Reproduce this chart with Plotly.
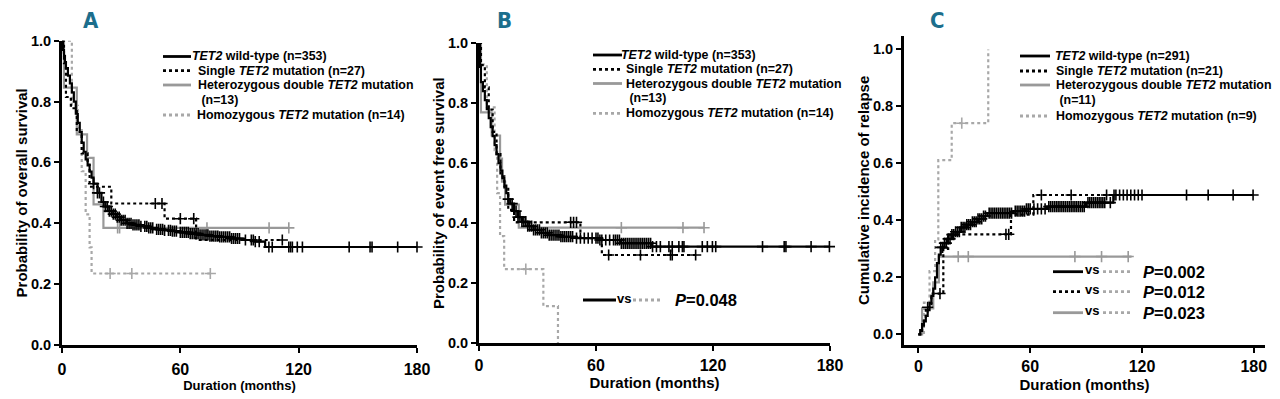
import plotly.graph_objects as go

W, H = 1280, 399

# ---------------- Panel A: overall survival ----------------
a_wt_t = [0, 0.5, 1, 1.5, 2, 3, 4, 5, 6, 7, 8, 9, 10, 11, 12, 13, 14, 15, 16, 18, 20, 22, 24, 26, 28, 30,
          33, 36, 40, 44, 48, 52, 56, 60, 65, 70, 75, 80, 86, 92, 98, 103]
a_wt_s = [1.0, 0.97, 0.95, 0.93, 0.91, 0.885, 0.86, 0.83, 0.80, 0.76, 0.73, 0.70, 0.665, 0.635, 0.61, 0.59,
          0.57, 0.55, 0.53, 0.50, 0.47, 0.455, 0.44, 0.43, 0.42, 0.41, 0.40, 0.395, 0.39, 0.385, 0.38, 0.377,
          0.374, 0.37, 0.366, 0.362, 0.358, 0.355, 0.35, 0.345, 0.34, 0.322]
a_wt_end = 180
a_wt_cens = [16, 18, 19, 21, 22, 23, 24, 25, 26, 27, 28, 29, 30, 31, 32, 33, 34, 35, 36, 37, 38, 39, 40, 42,
             43, 44, 45, 46, 48, 49, 50, 51, 52, 54, 55, 56, 57, 58, 60, 61, 62, 63, 64, 65, 66, 67, 68, 69,
             70, 71, 72, 73, 74, 75, 76, 77, 78, 79, 80, 81, 82, 83, 84, 85, 86, 87, 88, 89, 90, 93, 96, 97,
             98, 100, 104.9, 106.6, 115, 115.9, 116.8, 119.3, 121.9, 145.6, 156.2, 157.2, 170.2, 180]

a_single_t = [0, 1, 2, 4.5, 7.5, 10, 13, 14, 25, 52, 68]
a_single_s = [1.0, 0.926, 0.815, 0.778, 0.70, 0.63, 0.593, 0.52, 0.465, 0.415, 0.345]
a_single_end = 111.7
a_single_cens = [47.3, 50.7, 60, 66.8, 111.7]

a_het_t = [0, 1, 7.5, 12.7, 16, 21]
a_het_s = [1.0, 0.846, 0.692, 0.615, 0.462, 0.385]
a_het_end = 115
a_het_cens = [28.2, 29.2, 73.5, 105, 115]

a_homo_t = [0, 5, 8, 10, 12, 14, 15]
a_homo_s = [1.0, 0.786, 0.714, 0.571, 0.429, 0.321, 0.235]
a_homo_end = 75.2
a_homo_cens = [24.4, 35.4, 75.2]

# ---------------- Panel B: event free survival ----------------
b_wt_t = [0, 0.5, 1, 2, 3, 4, 5, 6, 7, 8, 9, 10, 11, 12, 13, 14, 15, 16, 18, 20, 22, 25, 28, 32, 36, 42,
          50, 62, 72.5, 88.8]
b_wt_s = [1.0, 0.92, 0.87, 0.84, 0.81, 0.78, 0.75, 0.72, 0.69, 0.66, 0.63, 0.60, 0.575, 0.55, 0.525, 0.50,
          0.48, 0.465, 0.44, 0.42, 0.405, 0.39, 0.378, 0.368, 0.36, 0.355, 0.35, 0.344, 0.333, 0.322]
b_wt_end = 179.7
b_wt_cens = [15, 17, 19, 20, 21, 22, 23, 24, 25, 26, 27, 28, 29, 30, 31, 32, 33, 34, 35, 36, 37, 38, 39, 40,
             41, 42, 43, 44, 45, 46, 47, 48, 50, 52, 54, 56, 58, 60, 61, 62, 63, 65, 67, 69, 70, 71, 72, 73,
             74, 75, 76, 77, 78, 79, 80, 81, 82, 83, 84, 85, 86, 87, 88, 89, 91, 93, 97.4, 99.1, 102.5,
             104.3, 105.1, 114.5, 117.1, 119.7, 121.4, 145.4, 156.5, 157.4, 170.3, 179.7]

b_single_t = [0, 1, 3, 5, 7, 9, 11, 13, 15, 18, 52, 63]
b_single_s = [1.0, 0.926, 0.852, 0.778, 0.704, 0.63, 0.556, 0.519, 0.444, 0.403, 0.35, 0.294]
b_single_end = 111.1
b_single_cens = [47, 48.5, 50, 66.5, 82.8, 98.2, 99.1, 111.1]

b_het_t = [0, 1, 6.5, 10.8, 11.8, 13.4, 20.4]
b_het_s = [1.0, 0.769, 0.692, 0.615, 0.538, 0.462, 0.385]
b_het_end = 115.4
b_het_cens = [73, 104.6, 115.4]

b_homo_t = [0, 1, 4, 8, 9.3, 10.8, 12.9, 33, 40.5]
b_homo_s = [1.0, 0.929, 0.786, 0.643, 0.5, 0.357, 0.247, 0.124, 0.0]
b_homo_end = 40.5
b_homo_cens = [24]

# ---------------- Panel C: cumulative incidence of relapse ----------------
c_wt_t = [0, 1, 2, 3, 4, 5, 6, 7, 8, 9, 10, 11, 12, 14, 16, 18, 20, 23, 26, 29, 32, 35, 37, 51, 58, 69,
          90, 104.6]
c_wt_v = [0, 0.015, 0.03, 0.045, 0.065, 0.085, 0.11, 0.135, 0.16, 0.2, 0.25, 0.28, 0.305, 0.32, 0.335,
          0.35, 0.36, 0.375, 0.385, 0.395, 0.405, 0.415, 0.425, 0.432, 0.44, 0.448, 0.462, 0.489]
c_wt_end = 179.6
c_wt_cens = [12, 13, 14, 15, 16, 17, 18, 19, 20, 21, 22, 23, 24, 25, 26, 27, 28, 29, 30, 31, 32, 33, 34, 35,
             36, 38, 39, 40, 41, 42, 43, 44, 45, 46, 47, 48, 49, 50, 52, 53, 54, 55, 56, 57, 58, 59, 60, 62,
             64, 66, 68, 70, 71, 72, 73, 74, 75, 76, 77, 78, 79, 80, 81, 82, 83, 84, 85, 86, 87, 88, 89, 91,
             92, 93, 94, 95, 96, 97, 98, 99, 100, 103, 105, 106, 108, 110, 112, 114, 116, 118, 120, 143.9,
             155.5, 168.9, 179.6]

c_single_t = [0, 2, 4, 7, 13.4, 16, 49.7, 61.7]
c_single_v = [0, 0.048, 0.095, 0.143, 0.30, 0.351, 0.42, 0.489]
c_single_end = 104
c_single_cens = [5, 11.6, 47, 48.5, 66, 82, 101]

c_het_t = [0, 2, 8, 11]
c_het_v = [0, 0.091, 0.182, 0.273]
c_het_end = 114.4
c_het_cens = [21.4, 26.8, 84, 98.3, 112.6]

c_homo_t = [0, 3, 6, 9, 10.7, 17.9, 37.5]
c_homo_v = [0, 0.111, 0.222, 0.333, 0.611, 0.741, 1.0]
c_homo_end = 37.5
c_homo_cens = [23.3]

x_ticks = [0, 60, 120, 180]
y_ticks = [0.0, 0.2, 0.4, 0.6, 0.8, 1.0]

legend_keys = ["wt", "single", "het", None, "homo"]
labels_a = ["<i>TET2</i> wild-type (n=353)", "Single <i>TET2</i> mutation (n=27)",
            "Heterozygous double <i>TET2</i> mutation", " (n=13)", "Homozygous <i>TET2</i> mutation (n=14)"]
labels_b = labels_a
labels_c = ["<i>TET2</i> wild-type (n=291)", "Single <i>TET2</i> mutation (n=21)",
            "Heterozygous double <i>TET2</i> mutation", " (n=11)", "Homozygous <i>TET2</i> mutation (n=9)"]
p_b = ["0.048"]
p_c = ["0.002", "0.012", "0.023"]

# ---------------- styles ----------------
BLACK = "#000000"
GREY_S = "#999999"
GREY_D = "#a8a8a8"
TEAL = "#1c6e8c"
FONT = "Liberation Sans, Arial, sans-serif"
styles = {
    "wt": dict(color=BLACK, dash="solid", width=2.2),
    "single": dict(color=BLACK, dash="dot", width=2.2),
    "het": dict(color=GREY_S, dash="solid", width=2.2),
    "homo": dict(color=GREY_D, dash="dot", width=2.2),
}


def px_x(p):
    return p / W


def px_y(p):
    return 1 - p / H


def step_at(times, vals, t):
    v = vals[0]
    for ti, vi in zip(times, vals):
        if ti <= t:
            v = vi
    return v


def full_name(labels, key):
    i = legend_keys.index(key)
    txt = labels[i] + (labels[i + 1] if key == "het" else "")
    return txt.replace("<i>", "").replace("</i>", "")


fig = go.Figure()


def add_curve(key, times, vals, end, cens, name, xa, ya):
    st = styles[key]
    xs = list(times) + [end]
    ys = list(vals) + [vals[-1]]
    fig.add_trace(go.Scatter(
        x=xs, y=ys, mode="lines", line=dict(color=st["color"], dash=st["dash"], width=st["width"], shape="hv"),
        name=name, showlegend=False, xaxis=xa, yaxis=ya, hoverinfo="name"))
    fig.add_trace(go.Scatter(
        x=cens, y=[step_at(times, vals, c) for c in cens], mode="markers", name=name + " (censored)",
        marker=dict(symbol="cross-thin", size=8, line=dict(width=1.6, color=st["color"])),
        showlegend=False, xaxis=xa, yaxis=ya, cliponaxis=False, hoverinfo="name"))


panels = [
    ("x", "y", labels_a, [
        ("homo", a_homo_t, a_homo_s, a_homo_end, a_homo_cens),
        ("het", a_het_t, a_het_s, a_het_end, a_het_cens),
        ("single", a_single_t, a_single_s, a_single_end, a_single_cens),
        ("wt", a_wt_t, a_wt_s, a_wt_end, a_wt_cens)]),
    ("x2", "y2", labels_b, [
        ("homo", b_homo_t, b_homo_s, b_homo_end, b_homo_cens),
        ("het", b_het_t, b_het_s, b_het_end, b_het_cens),
        ("single", b_single_t, b_single_s, b_single_end, b_single_cens),
        ("wt", b_wt_t, b_wt_s, b_wt_end, b_wt_cens)]),
    ("x3", "y3", labels_c, [
        ("homo", c_homo_t, c_homo_v, c_homo_end, c_homo_cens),
        ("het", c_het_t, c_het_v, c_het_end, c_het_cens),
        ("single", c_single_t, c_single_v, c_single_end, c_single_cens),
        ("wt", c_wt_t, c_wt_v, c_wt_end, c_wt_cens)]),
]
for xa, ya, labels, curves in panels:
    for key, t, v, end, cens in curves:
        add_curve(key, t, v, end, cens, full_name(labels, key), xa, ya)


def xaxis(dom, rng, title, tsize, anchor, standoff, lab_standoff):
    return dict(domain=dom, range=rng, tickvals=x_ticks, ticktext=[str(v) for v in x_ticks], anchor=anchor,
                automargin=False, showline=True, linewidth=3, linecolor="black", ticks="outside", ticklen=5,
                tickwidth=2, tickcolor="black", showgrid=False, zeroline=False, ticklabelstandoff=lab_standoff,
                tickfont=dict(family=FONT, size=16, color="black", weight="bold"),
                title=dict(text=title, font=dict(family=FONT, size=tsize, color="black", weight="bold"),
                           standoff=standoff))


def yaxis(dom, rng, title, anchor, tsize):
    return dict(domain=dom, range=rng, tickvals=y_ticks, tickformat=".1f", anchor=anchor, automargin=False,
                showline=True, linewidth=3, linecolor="black", ticks="outside", ticklen=5, tickwidth=2,
                tickcolor="black", showgrid=False, zeroline=False,
                tickfont=dict(family=FONT, size=14.5, color="black", weight="bold"),
                title=dict(text=title, font=dict(family=FONT, size=tsize, color="black", weight="bold"),
                           standoff=0))


fig.update_layout(
    width=W, height=H, margin=dict(l=0, r=0, t=0, b=0, autoexpand=False),
    paper_bgcolor="white", plot_bgcolor="white", showlegend=False,
    xaxis=xaxis([px_x(62), px_x(417)], [0, 180], "Duration (months)", 13, "y", 4, 3),
    yaxis=yaxis([px_y(345), px_y(40.7)], [0, 1.0], "Probability of overall survival", "x", 15),
    xaxis2=xaxis([px_x(479), px_x(830)], [0, 180], "Duration (months)", 15, "y2", 0, 0),
    yaxis2=yaxis([px_y(343.3), px_y(43)], [0, 1.0], "Probability of event free survival", "x2", 15),
    xaxis3=xaxis([px_x(904), px_x(1265)], [-7.7, 186], "Duration (months)", 15, "y3", 6, 0),
    yaxis3=yaxis([px_y(345), px_y(35.7)], [-0.0375, 1.048], "Cumulative incidence of relapse", "x3", 15),
)

annotations = []
shapes = []
for letter, cx in (("A", 91), ("B", 504), ("C", 937)):
    annotations.append(dict(text=letter, x=px_x(cx), y=px_y(20), xref="paper", yref="paper", showarrow=False,
                            xanchor="center", yanchor="middle",
                            font=dict(family="Liberation Sans Narrow, DejaVu Sans Condensed, Arial Narrow, sans-serif",
                                      size=22, color=TEAL, weight="bold")))


def key_line(x0, x1, y, st, width=2.8):
    shapes.append(dict(type="line", xref="paper", yref="paper", x0=px_x(x0), x1=px_x(x1), y0=px_y(y),
                       y1=px_y(y), line=dict(color=st["color"], dash=st["dash"], width=width)))


def text_at(txt, x, y, size, anchor="left"):
    annotations.append(dict(text=txt, x=px_x(x), y=px_y(y), xref="paper", yref="paper", showarrow=False,
                            xanchor=anchor, yanchor="middle", borderpad=0,
                            font=dict(family=FONT, size=size, color="black", weight="bold")))


# key blocks: (labels, line x0, line x1, text x list, y list)
key_blocks = [
    (labels_a, 163, 191, [191, 197, 197, 197, 196], [56.5, 70.7, 85, 99.5, 115]),
    (labels_b, 593, 622, [620, 625, 625, 625, 625], [55, 69.3, 83.5, 98, 113.3]),
    (labels_c, 1020, 1050, [1054, 1055, 1055, 1055, 1055], [56, 71, 85, 99.5, 116]),
]
for labels, lx0, lx1, txs, ys in key_blocks:
    for key, lab, tx, yy in zip(legend_keys, labels, txs, ys):
        if key is not None:
            key_line(lx0, lx1, yy, styles[key])
        text_at(lab, tx, yy, 12.4)


def p_row(y, left_style, right_style, pval, x0, x1, vsx, x2, x3, px_text, psize):
    key_line(x0, x1, y, left_style)
    key_line(x2, x3, y, right_style)
    text_at("vs", vsx, y - 2, 13, "center")
    text_at("<i>P</i>=" + pval, px_text, y, psize)


p_row(300, styles["wt"], styles["homo"], p_b[0], 583, 616, 624, 633, 663, 674, 16.5)
c_rows = [(271.7, styles["wt"]), (291.7, styles["single"]), (312.7, styles["het"])]
for (yy, st), pv in zip(c_rows, p_c):
    p_row(yy, st, styles["homo"], pv, 1053, 1083, 1092, 1103, 1132, 1142, 16.5)

fig.update_layout(annotations=annotations, shapes=shapes)
fig.write_html("out.html", config={"displayModeBar": False},
               post_script="document.body.style.margin='0px';")
